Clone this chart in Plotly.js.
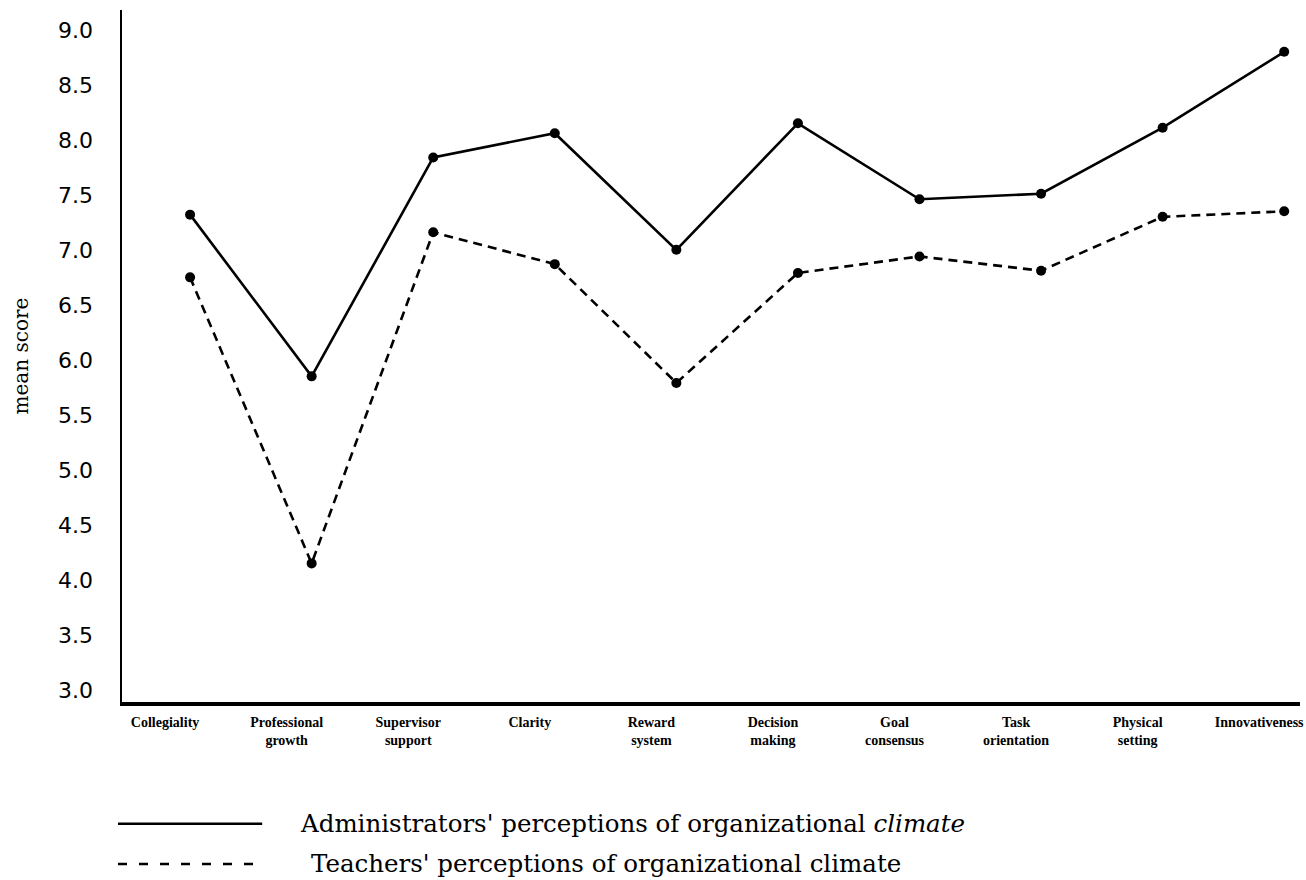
<!DOCTYPE html>
<html>
<head>
<meta charset="utf-8">
<script src="https://cdn.plot.ly/plotly-3.0.1.min.js"></script>
<style>html,body{margin:0;padding:0;background:#fff;}#chart{width:1306px;height:880px;}</style>
</head>
<body>
<div id="chart"></div>
<script>
const categories = ["Collegiality", "Professional<br>growth", "Supervisor<br>support", "Clarity", "Reward<br>system", "Decision<br>making", "Goal<br>consensus", "Task<br>orientation", "Physical<br>setting", "Innovativeness"];
const administrators = [7.32, 5.85, 7.84, 8.06, 7.00, 8.15, 7.46, 7.51, 8.11, 8.80];
const teachers = [6.75, 4.15, 7.16, 6.87, 5.79, 6.79, 6.94, 6.81, 7.30, 7.35];
const yTicks = [3.0, 3.5, 4.0, 4.5, 5.0, 5.5, 6.0, 6.5, 7.0, 7.5, 8.0, 8.5, 9.0];
const seriesNames = ["Administrators' perceptions of organizational <i>climate</i>", "Teachers' perceptions of organizational climate"];

const idx = categories.map((c, i) => i);

const traces = [
  {x: idx, y: administrators, type: 'scatter', mode: 'lines+markers', name: seriesNames[0],
   line: {color: '#000', width: 2.6}, marker: {color: '#000', size: 10}},
  {x: idx, y: teachers, type: 'scatter', mode: 'lines+markers', name: seriesNames[1],
   line: {color: '#000', width: 2.6, dash: '9px,6px'}, marker: {color: '#000', size: 10}}
];

const layout = {
  width: 1306, height: 880,
  margin: {l: 122, r: 6, t: 10, b: 178},
  paper_bgcolor: '#fff', plot_bgcolor: '#fff',
  showlegend: false,
  xaxis: {
    range: [-0.56, 9.13], tickvals: idx, ticktext: categories,
    showgrid: false, zeroline: false, showline: true, linecolor: '#000', linewidth: 4,
    ticks: '', ticklabelshift: -25, ticklabelstandoff: 4, ticklabeloverflow: 'allow',
    tickfont: {family: 'Liberation Serif', size: 14, color: '#000', weight: 'bold'}
  },
  yaxis: {
    range: [2.89, 9.18], tickvals: yTicks, ticktext: yTicks.map(v => v.toFixed(1)),
    showgrid: false, zeroline: false, showline: true, linecolor: '#000', linewidth: 2.5,
    ticks: '', ticklabelstandoff: 22,
    tickfont: {family: 'DejaVu Sans', size: 22, color: '#000'},
    title: {text: 'mean score', font: {family: 'DejaVu Serif', size: 20, color: '#000'}, standoff: 24}
  },
  shapes: [
    {type: 'line', xref: 'paper', yref: 'paper', x0: -0.0034, x1: 0.119, y0: -0.176, y1: -0.176,
     line: {color: '#000', width: 2.6}},
    {type: 'line', xref: 'paper', yref: 'paper', x0: -0.0034, x1: 0.119, y0: -0.234, y1: -0.234,
     line: {color: '#000', width: 2.6, dash: '9px,12px'}}
  ],
  annotations: [
    {xref: 'paper', yref: 'paper', x: 0.149, y: -0.176, xanchor: 'left', yanchor: 'middle', showarrow: false,
     text: seriesNames[0], font: {family: 'DejaVu Serif', size: 24.5, color: '#000'}},
    {xref: 'paper', yref: 'paper', x: 0.159, y: -0.234, xanchor: 'left', yanchor: 'middle', showarrow: false,
     text: seriesNames[1], font: {family: 'DejaVu Serif', size: 24.5, color: '#000'}}
  ]
};

Plotly.newPlot('chart', traces, layout, {displayModeBar: false, staticPlot: true});
</script>
</body>
</html>
